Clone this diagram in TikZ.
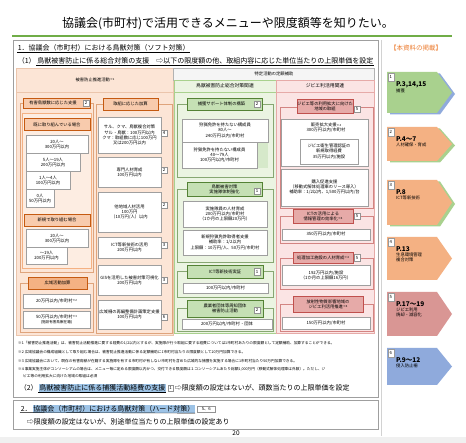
\documentclass[tikz,border=0pt]{standalone}
\usepackage{fontspec}
\setmainfont{Noto Sans CJK JP}
\usetikzlibrary{positioning}
\definecolor{hoOrange}{RGB}{244,177,131}
\definecolor{hoOrangeL}{RGB}{248,203,173}
\definecolor{hoOrangeBg}{RGB}{252,229,214}
\definecolor{hoOrangeLn}{RGB}{197,90,17}
\definecolor{hoOrangeT}{RGB}{237,125,49}
\definecolor{hoGreen}{RGB}{169,209,142}
\definecolor{hoGreenL}{RGB}{197,224,180}
\definecolor{hoGreenBg}{RGB}{235,244,226}
\definecolor{hoGreenLn}{RGB}{84,130,53}
\definecolor{hoPinkL}{RGB}{230,170,168}
\definecolor{hoPinkR}{RGB}{217,150,148}
\definecolor{hoPinkBg}{RGB}{251,228,228}
\definecolor{hoPinkLn}{RGB}{192,80,77}
\definecolor{hoBlue}{RGB}{143,170,220}
\definecolor{hoBlueHl}{RGB}{157,195,230}
\definecolor{hoTitle}{RGB}{112,173,71}
\newcommand\tny{\fontsize{4.3}{5.1}\selectfont}
\newcommand\fnote{\fontsize{3.7}{4.4}\selectfont}
\newcommand\lrg{\fontsize{7}{8.4}\selectfont}
\newcommand\pgno{\fontsize{6.5}{7.8}\selectfont}
\newcommand\kome[1]{\raisebox{0.8pt}{\fontsize{2.8}{3}\selectfont ※#1}}

\begin{document}
\begin{tikzpicture}[x=1pt, y=-1pt, font=\tny,
    wb/.style={draw=gray!75, fill=white, align=center, inner sep=0pt, font=\tny},
    ho/.style={draw=hoOrangeLn, fill=hoOrangeL, align=center, inner sep=0pt, font=\tny},
    hoD/.style={ho, fill=hoOrange},
    hg/.style={draw=hoGreenLn, fill=hoGreenL, align=center, inner sep=0pt, font=\tny},
    hp/.style={draw=hoPinkLn, fill=hoPinkL, align=center, inner sep=0pt, font=\tny},
    mk/.style={draw=gray!85, fill=white, minimum width=5.5, minimum height=6.5, inner sep=0.3pt, font=\tny},
    fo/.style={draw=hoOrangeLn!55, line width=0.5pt},
    fg/.style={draw=hoGreenLn!70, line width=0.5pt},
    fp/.style={draw=hoPinkLn!70, line width=0.5pt},
    hl/.style={fill=hoBlueHl, inner sep=0.6pt, font=\lrg},
    rnum/.style={draw=gray!80, fill=white, minimum width=6, minimum height=8, inner sep=0pt, font=\tny}]
  \useasboundingbox (0,0) rectangle (466,443);
  \fill[white] (0,0) rectangle (466,443);
  \fill[gray!12] (0,437) rectangle (466,443);
  \draw[gray!35] (381,40) -- (381,436);

  % title
  \node[font=\fontsize{12}{14}\selectfont] (title) at (228,24) {協議会(市町村)で活用できるメニューや限度額等を知りたい。};
  \draw[hoTitle, line width=2pt] (12,36) -- (452,36);

  % outer boxes
  \draw[gray!75, line width=0.8pt] (13,40) rectangle (378,397);
  \draw[gray!75, line width=0.8pt] (13,400) rectangle (378,429);
  \node[anchor=west, inner sep=0.6pt, font=\lrg] (sec1) at (17,48) {1．協議会（市町村）における鳥獣対策（ソフト対策）};
  \draw[line width=0.4pt] (sec1.south west) -- (sec1.south east);
  \node[anchor=west, inner sep=0.6pt, font=\lrg] (sub1a) at (17,61) {（1）};
  \node[right=0pt of sub1a, inner sep=0.6pt, font=\lrg] (sub1b) {鳥獣被害防止に係る総合対策の支援　⇨以下の限度額の他、取組内容に応じた単位当たりの上限単価を設定};
  \draw[line width=0.4pt] (sub1b.south west) -- (sub1b.south east);

  % column backgrounds
  \fill[hoOrangeBg] (16,68) rectangle (173,335);
  \draw[hoOrangeLn!35] (16,68) rectangle (173,335) (16,92) -- (173,92);
  \node (bgH) at (95,80) {被害防止推進活動\kome{1}};
  \draw[gray!60, fill=gray!8] (173,68) rectangle (374,80);
  \node (tkH) at (274,74) {特定活動の定額補助};
  \draw[hoGreen, fill=hoGreenBg] (174,80) rectangle (276,92);
  \node[font=\fontsize{4.8}{5.5}\selectfont] (sgH) at (225,86) {鳥獣被害防止総合対策関連};
  \draw[hoPinkL, fill=hoPinkBg] (276,80) rectangle (374,92);
  \node[font=\fontsize{4.8}{5.5}\selectfont] (spH) at (325,86) {ジビエ利活用関連};
  \draw[hoGreen, fill=hoGreenBg] (174,92) rectangle (276,333);
  \draw[hoPinkL, fill=hoPinkBg] (276,92) rectangle (374,333);

  % column A
  \draw[fo] (20,103) rectangle (93,272);
  \draw[hoOrange, fill=hoOrangeL!35] (22,113) rectangle (91,268);
  \node[ho, minimum width=67, minimum height=10] (hA) at (56.5,103) {有害鳥獣数に応じた支援\hspace{7pt}};
  \node[mk] (mA) at (86,103) {2};
  \node[ho, minimum width=66, minimum height=12] (hA1) at (57,124.5) {既に取り組んでいる場合};
  \node[wb, minimum width=62, minimum height=18] (a1) at (57,144) {20人～\\300万円以内};
  \node[wb, minimum width=54, minimum height=18] (a2) at (53,162) {5人～19人\\200万円以内};
  \node[wb, minimum width=44, minimum height=18] (a3) at (48,180) {1人～4人\\100万円以内};
  \node[wb, minimum width=28, minimum height=18] (a4) at (40,198) {0人\\50万円以内};
  \node[ho, minimum width=66, minimum height=12] (hA2) at (57,220) {新規で取り組む場合};
  \node[wb, minimum width=62, minimum height=18] (b1) at (57,238) {20人～\\300万円以内};
  \node[wb, minimum width=41, minimum height=17] (b2) at (46.5,255.5) {～19人\\200万円以内};
  \draw[fo] (20,283) rectangle (93,332);
  \node[hoD, minimum width=59, minimum height=12] (hA3) at (57.5,283) {広域活動加算};
  \node[wb, minimum width=67, minimum height=14] (c1) at (56.5,301) {20万円以内/市町村\kome{2}};
  \node[wb, minimum width=67, minimum height=17] (c2) at (56.5,319.5) {50万円以内/市町村\kome{3}\\{\fontsize{3.6}{4.3}\selectfont (施設有害鳥獣在籍)}};

  % column B
  \draw[fo] (96,104) rectangle (172,333);
  \node[ho, minimum width=55, minimum height=12] (hB) at (130.5,104) {取組に応じた加算};
  \node[wb, minimum width=63, minimum height=36] (d1) at (129.5,135) {サル、クマ、鳥獣複合対策\\サル・鳥獣：100万円以内\\クマ：取組数に応じ100万円\\又は200万円以内};
  \node[wb, minimum width=63, minimum height=30] (d2) at (129.5,172) {専門人材育成\\100万円以内};
  \node[wb, minimum width=63, minimum height=40] (d3) at (129.5,212) {他地域人材活用\\100万円\\（10万円/人）以内};
  \node[wb, minimum width=63, minimum height=21] (d4) at (129.5,247.5) {ICT等新技術の活用\\200万円以内};
  \node[wb, minimum width=63, minimum height=30] (d5) at (129.5,280) {GISを活用した被害対策可視化\\200万円以内};
  \node[wb, minimum width=63, minimum height=29] (d6) at (129.5,314.5) {広域柵の再編整備計画策定支援\\100万円以内};
  \node[mk] (md1) at (164,133) {4};
  \node[mk] (md2) at (164,170) {2};
  \node[mk] (md3) at (164,205) {2};
  \node[mk] (md4) at (164,245) {3};
  \node[mk] (md5) at (164,280) {3};
  \node[mk] (md6) at (164,317) {6};

  % green column
  \draw[fg] (177,104) rectangle (273,177);
  \node[hg, minimum width=75, minimum height=12] (hG1) at (224.5,104) {捕獲サポート体制の構築\hspace{6pt}};
  \node[mk] (mG1) at (257,104) {2};
  \fill[hoGreenL!70] (257,142) rectangle (268,168);
  \node[wb, minimum width=86, minimum height=23] (e1) at (225,130.5) {狩猟免許を持たない構成員\\80人～\\240万円以内/市町村};
  \node[wb, minimum width=75, minimum height=26] (e2) at (219.5,155) {狩猟免許を持たない構成員\\40～79人\\100万円以内/市町村};
  \draw[fg] (177,189) rectangle (273,262);
  \node[hg, minimum width=75, minimum height=14] (hG2) at (224.5,189) {鳥獣被害対策\\実施隊体制強化};
  \node[mk] (mG2) at (257,191) {1};
  \node[wb, minimum width=84, minimum height=26] (e3) at (225,214) {実施隊員の人材育成\\200万円以内/市町村\\（1か月の上限額20万円）};
  \node[wb, minimum width=84, minimum height=25] (e4) at (225,242.5) {新規狩猟免許取得者支援\\補助率：1/2以内\\上限額：10万円/人、50万円/市町村};
  \draw[fg] (177,271) rectangle (273,297);
  \node[hg, minimum width=76, minimum height=13] (hG3) at (225,271.5) {ICT等新技術実証};
  \node[mk] (mG3) at (257,271.5) {1};
  \node[wb, minimum width=85, minimum height=10] (e5) at (225.5,288) {100万円以内/市町村};
  \draw[fg] (177,308) rectangle (273,331);
  \node[hg, minimum width=76, minimum height=17] (hG4) at (225,308.5) {農業者団体等周知団体\\被害防止活動};
  \node[mk] (mG4) at (257,310) {2};
  \node[wb, minimum width=90, minimum height=10] (e6) at (227,324) {200万円以内/市町村・団体};

  % pink column
  \draw[fp] (280,107) rectangle (373,208);
  \node[hp, minimum width=56, minimum height=14] (hP1) at (325,106) {ジビエ等の利用拡大に向けた\\地域の取組};
  \node[mk] (mP1) at (357,109) {5};
  \node[wb, minimum width=87, minimum height=47] (f1) at (324.5,142.5) {};
  \node[align=center, inner sep=0pt] (f1t) at (326,128) {販売拡大支援\kome{4}\\300万円以内/市町村};
  \node[wb, minimum width=58, minimum height=25] (f1i) at (329,151.5) {ジビエ衛生管理認証の\\新規取得経費\\35万円以内/施設};
  \node[wb, minimum width=87, minimum height=37] (f2) at (324.5,187.5) {購入促進支援\\（移動式解体処理車のリース導入）\\補助率：1/2以内、1,500万円以内/台};
  \draw[fp] (280,216) rectangle (373,243);
  \node[hp, minimum width=60, minimum height=14] (hP2) at (323,216) {ICTの活用による\\情報管理の効率化\kome{4}};
  \node[mk] (mP2) at (357,216) {5};
  \node[wb, minimum width=88, minimum height=11] (f3) at (326,234.5) {350万円以内/市町村};
  \draw[fp] (280,258) rectangle (373,289);
  \node[hp, minimum width=60, minimum height=11] (hP3) at (323,257.5) {処理加工施設の人材育成\kome{4}};
  \node[mk] (mP3) at (357,257.5) {5};
  \node[wb, minimum width=88, minimum height=20] (f4) at (326,275) {192万円以内/施設\\（1か月の上限額16万円）};
  \draw[fp] (280,304) rectangle (373,331);
  \node[hp, minimum width=70, minimum height=16] (hP4) at (328,304) {放射性物質影響地域の\\ジビエ利活用推進\kome{4}};
  \node[wb, minimum width=88, minimum height=12] (f5) at (326,323) {150万円以内/市町村};

  % footnotes
  \node[anchor=west, inner sep=0pt, font=\fnote] (n1) at (18,343) {※1「被害防止推進活動」は、被害防止活動推進に要する経費の1/2以内とするが、実施隊が行う取組に要する経費については1市町村あたりの限度額として定額補助、加算することができる。};
  \node[anchor=west, inner sep=0pt, font=\fnote] (n2) at (18,352) {※2 広域協議会の構成組織として取り組む場合は、被害防止推進活動に係る定額補助に1市町村当たりの限度額として20万円加算できる。};
  \node[anchor=west, inner sep=0pt, font=\fnote] (n3) at (18,361) {※3 広域協議会において、既存の有害鳥獣が在籍する実施隊を有する市町村が有しない市町村を含めた広域的な捕獲を実施する場合に1市町村当たり50万円加算できる。};
  \node[anchor=west, inner sep=0pt, font=\fnote] (n4) at (18,369) {※4 事業実施主体がコンソーシアムの場合は、メニュー毎に定める限度額以内かつ、交付できる限度額は１コンソーシアムあたり総額1,000万円（移動式解体処理車は外数）。ただし、ジ};
  \node[anchor=west, inner sep=0pt, font=\fnote] (n5) at (23,376) {ビエ等の利用拡大に向けた地域の取組は必須};

  % (2)
  \node[anchor=west, inner sep=0.6pt, font=\lrg] (s2a) at (19,388) {（2）};
  \node[hl, right=0pt of s2a] (s2b) {鳥獣被害防止に係る捕獲活動経費の支援};
  \draw[line width=0.4pt] (s2b.south west) -- (s2b.south east);
  \node[mk, right=1.5pt of s2b] (s2m) {1};
  \node[right=0.5pt of s2m, inner sep=0.6pt, font=\lrg] (s2c) {⇨限度額の設定はないが、頭数当たりの上限単価を設定};

  % 2. hard
  \node[anchor=west, inner sep=0.6pt, font=\lrg] (h2a) at (20,409) {2．};
  \node[hl, right=0pt of h2a] (h2b) {協議会（市町村）における鳥獣対策（ハード対策）};
  \draw[line width=0.4pt] (h2a.south west) -- (h2b.south east);
  \node[mk, minimum width=18, right=2pt of h2b] (h2m) {5、6};
  \node[anchor=west, inner sep=0.6pt, font=\lrg] (h2c) at (26,422) {⇨限度額の設定はないが、別途単位当たりの上限単価の設定あり};
  \node[font=\pgno] (page) at (236,433) {20};

  % index on the right
  \node[text=hoOrangeT, font=\pgno] (idx) at (416,48) {【本資料の掲載】};
  \foreach \i/\ya/\yb/\col/\sh/\pg/\lb in {
      1/72/113/hoGreen/hoBlue/{P.3,14,15}/{捕獲},
      2/127/161/hoOrange/hoGreen/{P.4～7}/{人材確保・育成},
      3/180/225/hoOrange/hoGreen/{P.8}/{ICT等新技術},
      4/237/280/hoOrange/white/{P.13}/{生息環境管理\\複合対策},
      5/292/336/hoPinkR/white/{P.17～19}/{ジビエ利用\\焼却・減容化},
      6/348/385/hoBlue/white/{P.9～12}/{侵入防止柵}}{
    \pgfmathsetmacro\ym{(\ya+\yb)/2}
    \fill[\sh] (390,\ya+1.5) -- (440,\ya+1.5) -- (455,\ym+1.5) -- (440,\yb+1.5) -- (390,\yb+1.5) -- cycle;
    \fill[\col] (387,\ya) -- (437,\ya) -- (452,\ym) -- (437,\yb) -- (387,\yb) -- cycle;
    \node[rnum, anchor=north west] (r\i) at (387.5,\ya+1) {\i};
    \node[anchor=north west, inner sep=0pt, font=\bfseries\pgno] (rp\i) at (396,\ya+9) {\pg};
    \node[below right=1pt and 0pt of rp\i.south west, inner sep=0pt, align=left, font=\tny] (rl\i) {\lb};
  }
\end{tikzpicture}
\end{document}
